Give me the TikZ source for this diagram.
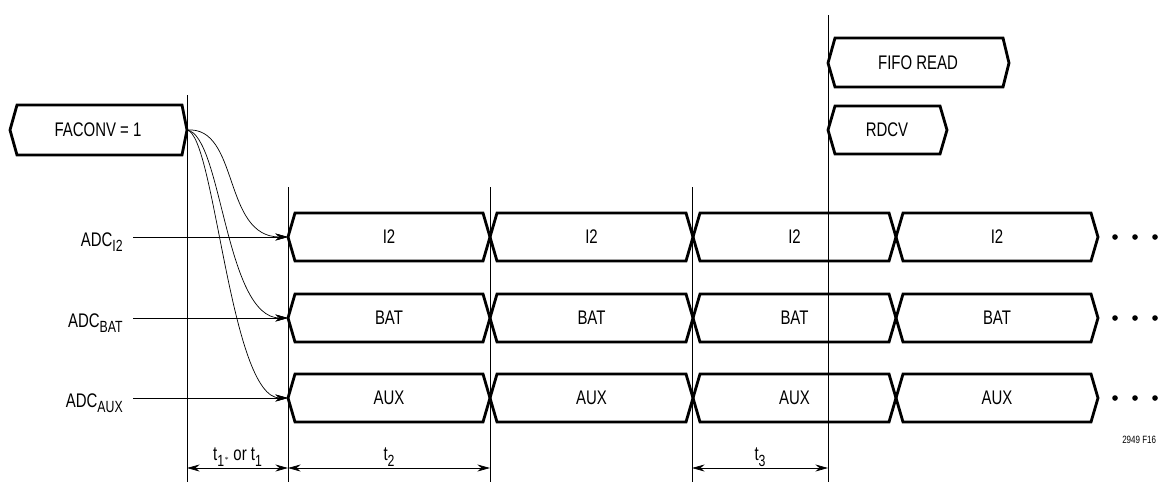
\documentclass[tikz,border=0pt]{standalone}
\usepackage{fontspec}
\setmainfont{Liberation Sans}[FakeStretch=0.76]
\usetikzlibrary{arrows.meta}

\newcommand{\sub}[1]{\raisebox{-0.3em}{\fontsize{11.5}{12}\selectfont #1}}

\tikzset{
  bus/.style={line width=2pt, line join=miter},
  thinline/.style={line width=0.5pt},
  lbl/.style={font=\fontsize{14}{16}\selectfont, inner sep=1pt},
}

\begin{document}
\begin{tikzpicture}[x=0.025cm, y=-0.025cm, >={Stealth[length=9pt,width=5pt]}]
  \useasboundingbox (0,0) rectangle (1159,482);

  % time markers
  \foreach \name/\x/\top in {m0/187/95, m1/288/187, m2/490/187, m3/692/187, m4/828/15} {
    \draw[thinline] (\x,\top) -- (\x,482);
    \coordinate (\name) at (\x,468);
  }

  % start command
  \draw[bus] (10,130) -- (17,105) -- (182,105) -- (187,130) -- (182,155) -- (17,155) -- cycle;
  \node[lbl] (faconv) at (98,130) {FACONV = 1};
  \coordinate (fa) at (187,130);

  % read commands
  \draw[bus] (828,63) -- (835,38) -- (1003,38) -- (1009,63) -- (1003,87) -- (835,87) -- cycle;
  \node[lbl] (fifo) at (918,63) {FIFO READ};
  \draw[bus] (828,130) -- (835,106) -- (940,106) -- (947,130) -- (940,154) -- (835,154) -- cycle;
  \node[lbl] (rdcv) at (887,130) {RDCV};

  % conversion rows
  \foreach \row/\y/\txt in {i2/237/I2, bat/318/BAT, aux/398/AUX} {
    \foreach \a/\b [count=\k] in {288/490, 490/693, 693/896, 896/1098} {
      \draw[bus] (\a,\y) -- (\a+7,\y-24) -- (\b-7,\y-24) -- (\b,\y) -- (\b-7,\y+24) -- (\a+7,\y+24) -- cycle;
      \node[lbl] (\row\k) at ({(\a+\b)/2},\y) {\txt};
    }
    \coordinate (\row-in) at (288,\y);
    \foreach \d in {1115,1135,1155}
      \fill (\d,\y) circle (2pt);
  }

  % ADC inputs
  \node[lbl, anchor=base east, inner xsep=0.25cm] (adci2) at (133,246) {ADC\sub{I2}};
  \node[lbl, anchor=base east, inner xsep=0.25cm] (adcbat) at (133,327) {ADC\sub{BAT}};
  \node[lbl, anchor=base east, inner xsep=0.25cm] (adcaux) at (133,407) {ADC\sub{AUX}};
  \draw[thinline,->] (adci2.east |- i2-in) -- (i2-in);
  \draw[thinline,->] (adcbat.east |- bat-in) -- (bat-in);
  \draw[thinline,->] (adcaux.east |- aux-in) -- (aux-in);

  \draw[thinline,->] (fa) .. controls (240,126) and (222,237) .. (i2-in);
  \draw[thinline,->] (fa) .. controls (222,135) and (225,318) .. (bat-in);
  \draw[thinline,->] (fa) .. controls (215,135) and (230,398) .. (aux-in);

  % timing
  \draw[thinline,<->] (m0) -- (m1) node[lbl, midway, above] (t1) {t\sub{1}{\tiny$\ast$} or t\sub{1}};
  \draw[thinline,<->] (m1) -- (m2) node[lbl, midway, above] (t2) {t\sub{2}};
  \draw[thinline,<->] (m3) -- (m4) node[lbl, midway, above] (t3) {t\sub{3}};

  \node[font=\fontsize{7.5}{9}\selectfont, anchor=base west, inner sep=0pt] (fig) at (1122,443) {2949 F16};
\end{tikzpicture}
\end{document}
